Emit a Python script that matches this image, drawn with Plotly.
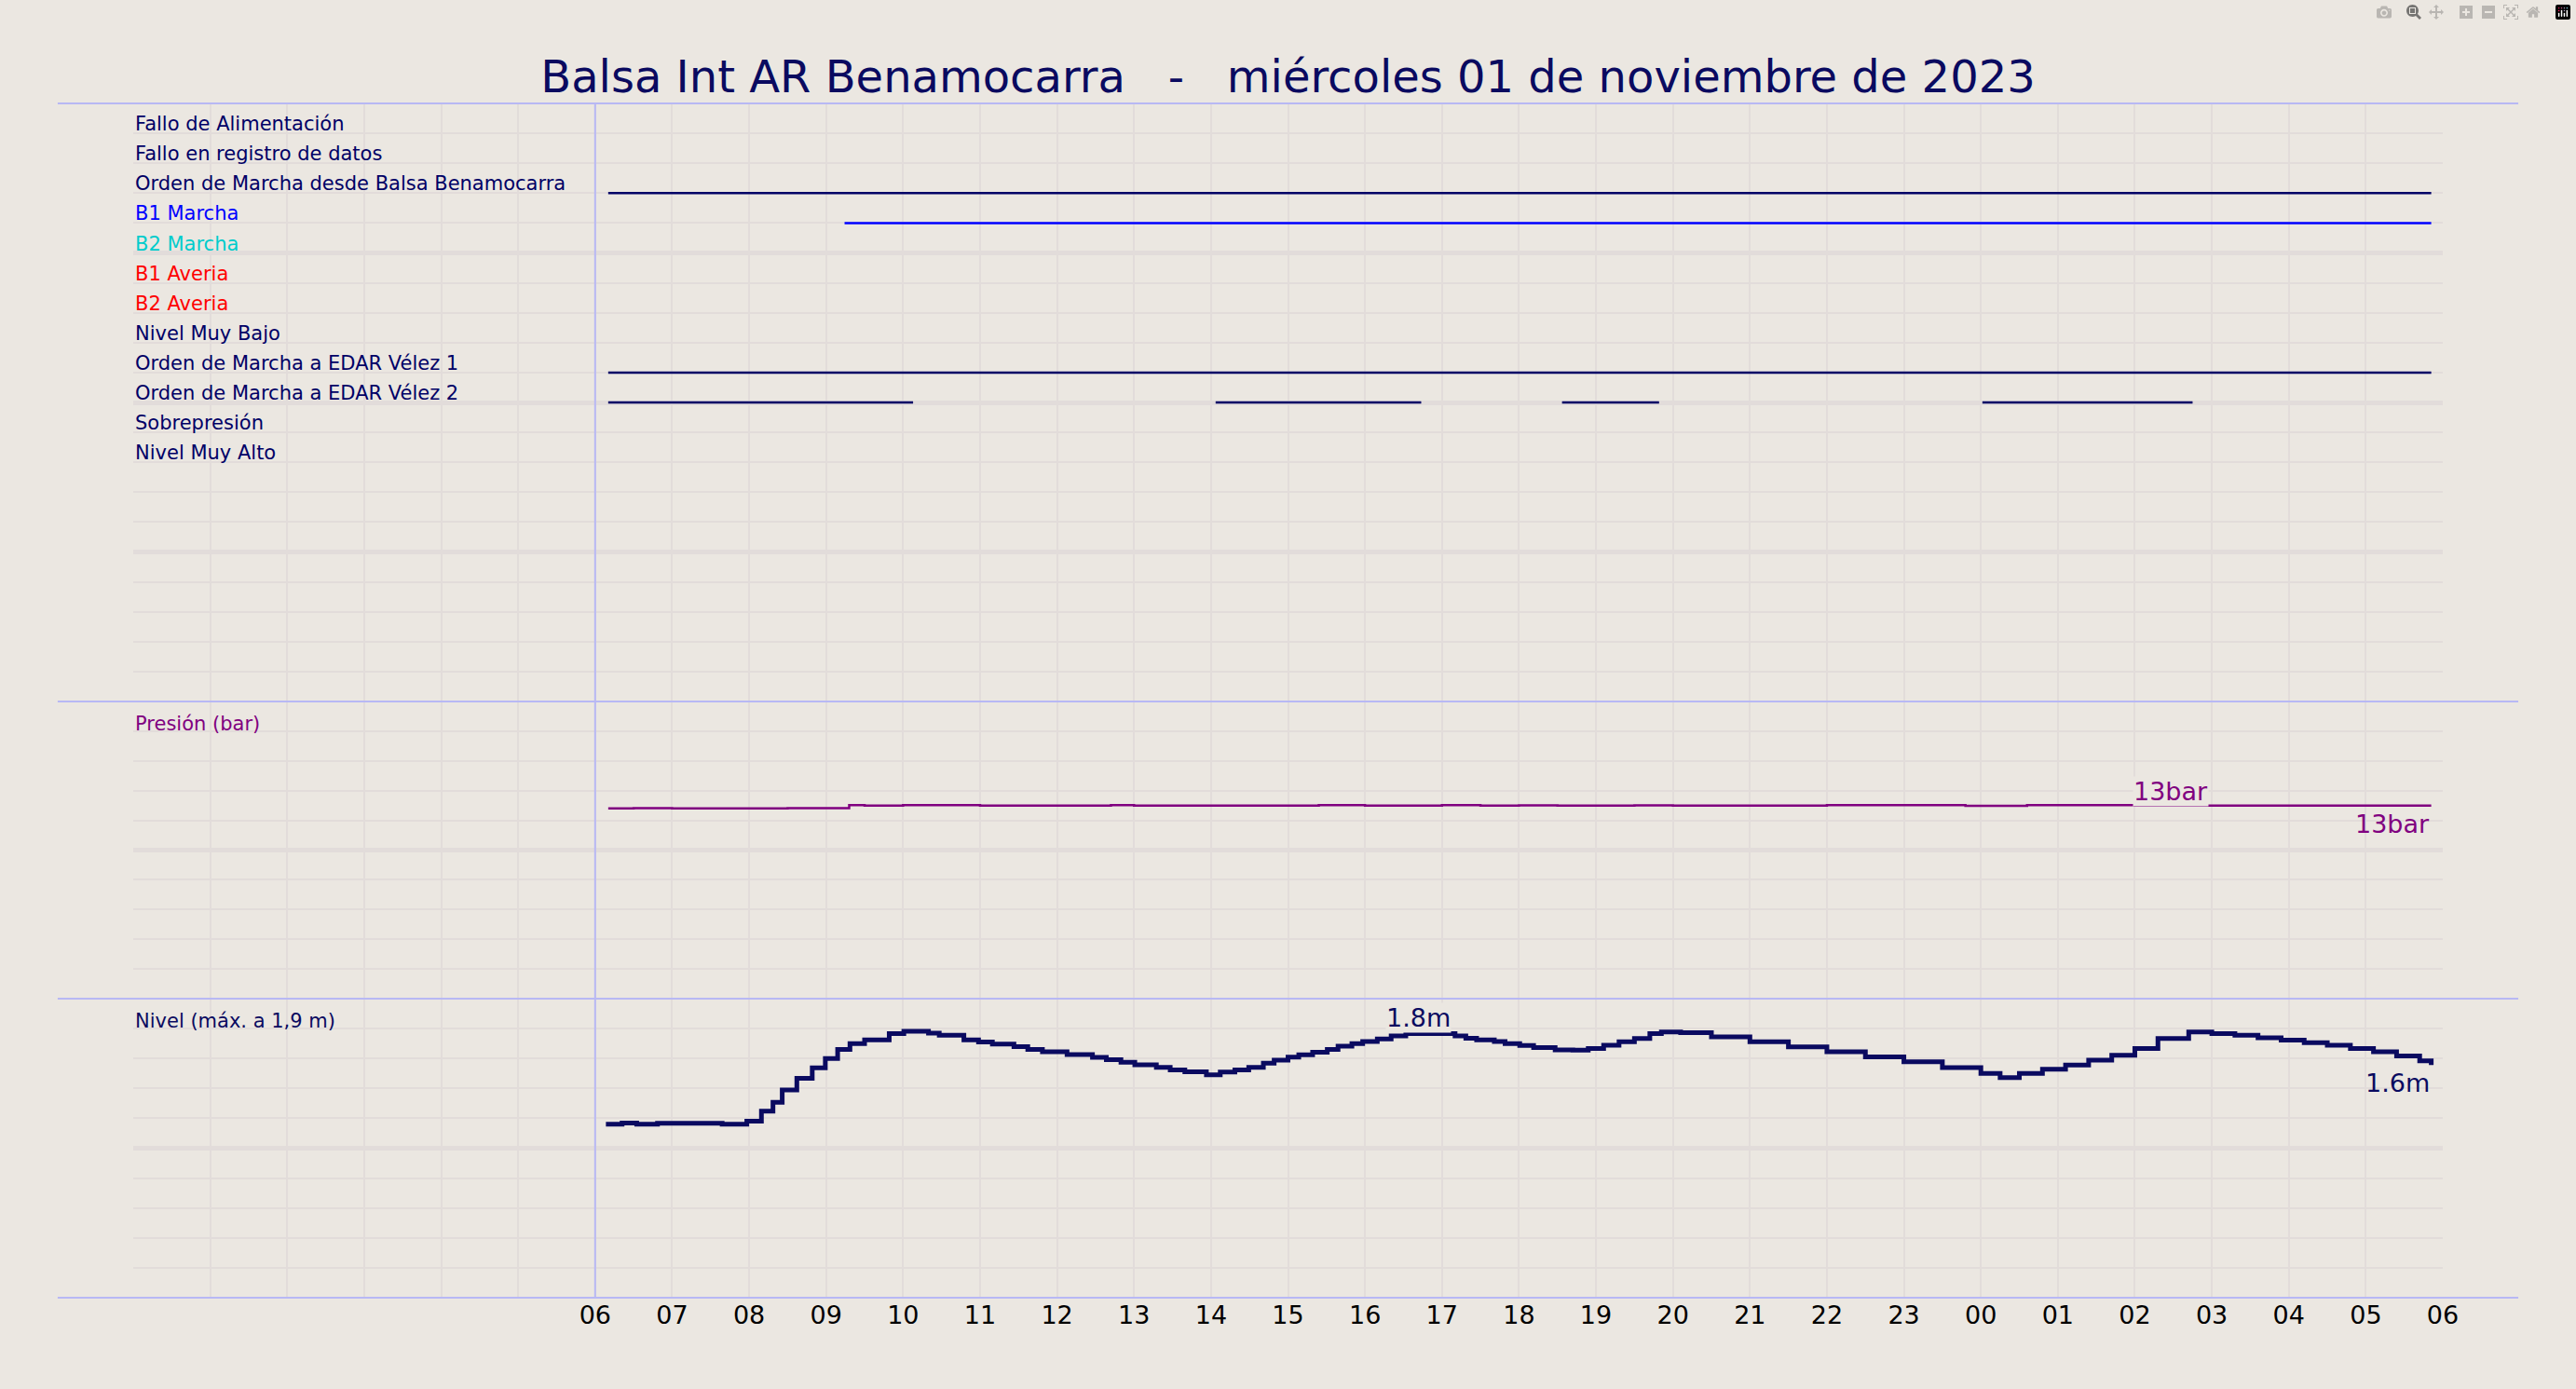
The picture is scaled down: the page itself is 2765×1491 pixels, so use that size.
import plotly.graph_objects as go
from plotly.subplots import make_subplots

title = "Balsa Int AR Benamocarra   -   miércoles 01 de noviembre de 2023"
hour_ticks = list(range(6, 31))
hour_text = ["%02d" % (h % 24) for h in hour_ticks]

signal_labels = ["Fallo de Alimentación", "Fallo en registro de datos",
                 "Orden de Marcha desde Balsa Benamocarra", "B1 Marcha", "B2 Marcha",
                 "B1 Averia", "B2 Averia", "Nivel Muy Bajo", "Orden de Marcha a EDAR Vélez 1",
                 "Orden de Marcha a EDAR Vélez 2", "Sobrepresión", "Nivel Muy Alto"]
signal_colors = ["#000066", "#000066", "#000066", "#0000ff", "#00cccc", "#ff0000",
                 "#ff0000", "#000066", "#000066", "#000066", "#000066", "#000066"]
# active intervals (hours from 01/11 00:00)
signal_on = {
    2: [(6.17, 29.85)],
    3: [(9.24, 29.85)],
    8: [(6.17, 29.85)],
    9: [(6.17, 10.13), (14.06, 16.73), (18.56, 19.82), (24.02, 26.75)],
}

pres_t = [6.17, 6.5, 7.0, 7.5, 8.0, 8.5, 9.3, 9.5, 10.0, 11.0, 12.0, 12.7, 13.0, 14.0,
          15.0, 15.4, 16.0, 17.0, 17.5, 18.0, 18.5, 19.0, 19.5, 20.0, 21.0, 22.0, 23.0,
          23.8, 24.6, 25.0, 26.0, 27.0, 28.0, 29.85]
pres_v = [12.8, 12.82, 12.8, 12.81, 12.8, 12.82, 13.02, 13.0, 13.03, 13.0, 13.0, 13.03,
          13.0, 13.0, 13.0, 13.03, 13.0, 13.02, 13.0, 13.01, 12.99, 13.0, 13.01, 13.0,
          13.0, 13.02, 13.02, 12.98, 13.02, 13.02, 12.99, 13.0, 13.0, 13.0]

lvl_t = [6.14, 6.35, 6.54, 6.81, 7.37, 7.65, 7.97, 8.16, 8.31, 8.43, 8.62, 8.82, 8.99,
         9.15, 9.31, 9.50, 9.82, 10.01, 10.33, 10.47, 10.79, 10.98, 11.16, 11.44, 11.62,
         11.81, 12.13, 12.46, 12.64, 12.83, 13.01, 13.29, 13.47, 13.66, 13.94, 14.12,
         14.31, 14.49, 14.68, 14.82, 15.00, 15.14, 15.32, 15.51, 15.65, 15.83, 15.97,
         16.16, 16.34, 16.53, 17.17, 17.31, 17.45, 17.68, 17.82, 18.01, 18.19, 18.47,
         18.7, 18.9, 19.1, 19.3, 19.5, 19.7, 19.85, 20.1, 20.5, 21.0, 21.5, 22.0, 22.5,
         23.0, 23.5, 24.0, 24.25, 24.5, 24.8, 25.1, 25.4, 25.7, 26.0, 26.3, 26.7, 27.0,
         27.3, 27.6, 27.9, 28.2, 28.5, 28.8, 29.1, 29.4, 29.7, 29.85]
lvl_v = [1.244, 1.252, 1.244, 1.25, 1.25, 1.244, 1.263, 1.323, 1.376, 1.451, 1.521,
         1.583, 1.639, 1.695, 1.729, 1.752, 1.789, 1.803, 1.793, 1.78, 1.752, 1.739,
         1.727, 1.711, 1.695, 1.68, 1.664, 1.647, 1.633, 1.617, 1.602, 1.586, 1.571,
         1.56, 1.541, 1.558, 1.571, 1.586, 1.611, 1.63, 1.648, 1.662, 1.677, 1.695,
         1.714, 1.729, 1.742, 1.758, 1.776, 1.789, 1.776, 1.761, 1.752, 1.742, 1.729,
         1.718, 1.705, 1.692, 1.69, 1.70, 1.72, 1.74, 1.76, 1.79, 1.80, 1.795, 1.77,
         1.74, 1.71, 1.68, 1.65, 1.62, 1.585, 1.55, 1.525, 1.55, 1.575, 1.60, 1.63,
         1.66, 1.70, 1.76, 1.80, 1.79, 1.78, 1.765, 1.75, 1.735, 1.72, 1.70, 1.68,
         1.655, 1.625, 1.60]

BG = "#ebe7e1"
NAVY = "#0a0a60"
GRID = "#e2dcda"
BLUE_LINE = "#b8b8f4"
FONT = "DejaVu Sans"

fig = make_subplots(rows=3, cols=1, shared_xaxes=True, vertical_spacing=0,
                    row_heights=[0.5008, 0.2488, 0.2504])

for k, iv in signal_on.items():
    xs, ys = [], []
    for a, b in iv:
        xs += [a, b, None]
        ys += [k, k, None]
    fig.add_trace(go.Scatter(x=xs, y=ys, mode="lines",
                             line=dict(color=signal_colors[k], width=2.5),
                             hoverinfo="skip", showlegend=False), row=1, col=1)

fig.add_trace(go.Scatter(x=pres_t, y=pres_v, mode="lines", line_shape="hv",
                         line=dict(color="#800080", width=2.5), showlegend=False), row=2, col=1)
fig.add_trace(go.Scatter(x=lvl_t, y=lvl_v, mode="lines", line_shape="hv",
                         line=dict(color=NAVY, width=5), showlegend=False), row=3, col=1)

for i, (lab, col) in enumerate(zip(signal_labels, signal_colors)):
    fig.add_annotation(x=0, y=i, xref="x", yref="y", text=lab, showarrow=False,
                       xanchor="left", yanchor="bottom", yshift=-4,
                       font=dict(family=FONT, size=21, color=col))
fig.add_annotation(x=0, y=20, xref="x2", yref="y2", text="Presión (bar)", showarrow=False,
                   xanchor="left", yanchor="top", yshift=-10,
                   font=dict(family=FONT, size=21, color="#800080"))
fig.add_annotation(x=0, y=2.0, xref="x3", yref="y3", text="Nivel (máx. a 1,9 m)", showarrow=False,
                   xanchor="left", yanchor="top", yshift=-10,
                   font=dict(family=FONT, size=21, color=NAVY))
fig.add_annotation(x=26.47, y=13.0, xref="x2", yref="y2", text="13bar", showarrow=False,
                   yanchor="bottom", yshift=-1, bgcolor=BG, borderpad=0,
                   font=dict(family=FONT, size=27, color="#800080"))
fig.add_annotation(x=29.85, y=13.0, xref="x2", yref="y2", text="13bar", showarrow=False,
                   xanchor="right", yanchor="top", yshift=-2,
                   font=dict(family=FONT, size=27, color="#800080"))
fig.add_annotation(x=16.7, y=1.80, xref="x3", yref="y3", text="1.8m", showarrow=False,
                   yanchor="bottom", yshift=-1, bgcolor=BG, borderpad=0,
                   font=dict(family=FONT, size=27, color=NAVY))
fig.add_annotation(x=29.85, y=1.60, xref="x3", yref="y3", text="1.6m", showarrow=False,
                   xanchor="right", yanchor="top", yshift=-2,
                   font=dict(family=FONT, size=27, color=NAVY))

xax = dict(range=[0, 30], showgrid=True, gridcolor=GRID, gridwidth=2, tick0=0, dtick=1,
           zeroline=False, showline=False, ticks="")
for r in (1, 2, 3):
    fig.update_xaxes(row=r, col=1, showticklabels=(r == 3), **xax)
fig.update_xaxes(row=3, col=1, tickmode="array", tickvals=hour_ticks, ticktext=hour_text,
                 tickfont=dict(family=FONT, size=27, color="black"),
                 minor=dict(showgrid=True, gridcolor=GRID, gridwidth=2, dtick=1, tick0=0))
fig.update_xaxes(row=3, col=1, showgrid=False)

yc = dict(showticklabels=False, zeroline=False, showline=False, ticks="",
          gridcolor=GRID, gridwidth=5)
fig.update_yaxes(row=1, col=1, range=[19, -1], tick0=-1, dtick=5,
                 minor=dict(showgrid=True, gridcolor=GRID, gridwidth=2, dtick=1, tick0=-1), **yc)
fig.update_yaxes(row=2, col=1, range=[0, 20], tick0=0, dtick=10,
                 minor=dict(showgrid=True, gridcolor=GRID, gridwidth=2, dtick=2, tick0=0), **yc)
fig.update_yaxes(row=3, col=1, range=[0.2, 2.0], tick0=0.2, dtick=0.9,
                 minor=dict(showgrid=True, gridcolor=GRID, gridwidth=2, dtick=0.18, tick0=0.2), **yc)

shapes = []
for yb in [0, 0.2504, 0.4992, 1.0]:
    shapes.append(dict(type="line", xref="paper", yref="paper", x0=-0.0327, x1=1.0327,
                       y0=yb, y1=yb, line=dict(color=BLUE_LINE, width=2)))
shapes.append(dict(type="line", xref="x3", yref="paper", x0=6, x1=6, y0=0, y1=1,
                   line=dict(color=BLUE_LINE, width=2)))
fig.update_layout(shapes=shapes)

fig.update_layout(
    width=2765, height=1491, paper_bgcolor=BG, plot_bgcolor=BG,
    margin=dict(l=143, r=143, t=111, b=98),
    title=dict(text=title, x=0.5, xanchor="center", y=0.945, yanchor="middle",
               font=dict(family=FONT, size=48, color=NAVY)),
    showlegend=False,
)
fig.write_html("out.html")

with open("out.html", encoding="utf-8") as f:
    html = f.read()
html = html.replace("<body>", '<body style="margin:0;padding:0;background:%s">' % BG, 1)
with open("out.html", "w", encoding="utf-8") as f:
    f.write(html)
